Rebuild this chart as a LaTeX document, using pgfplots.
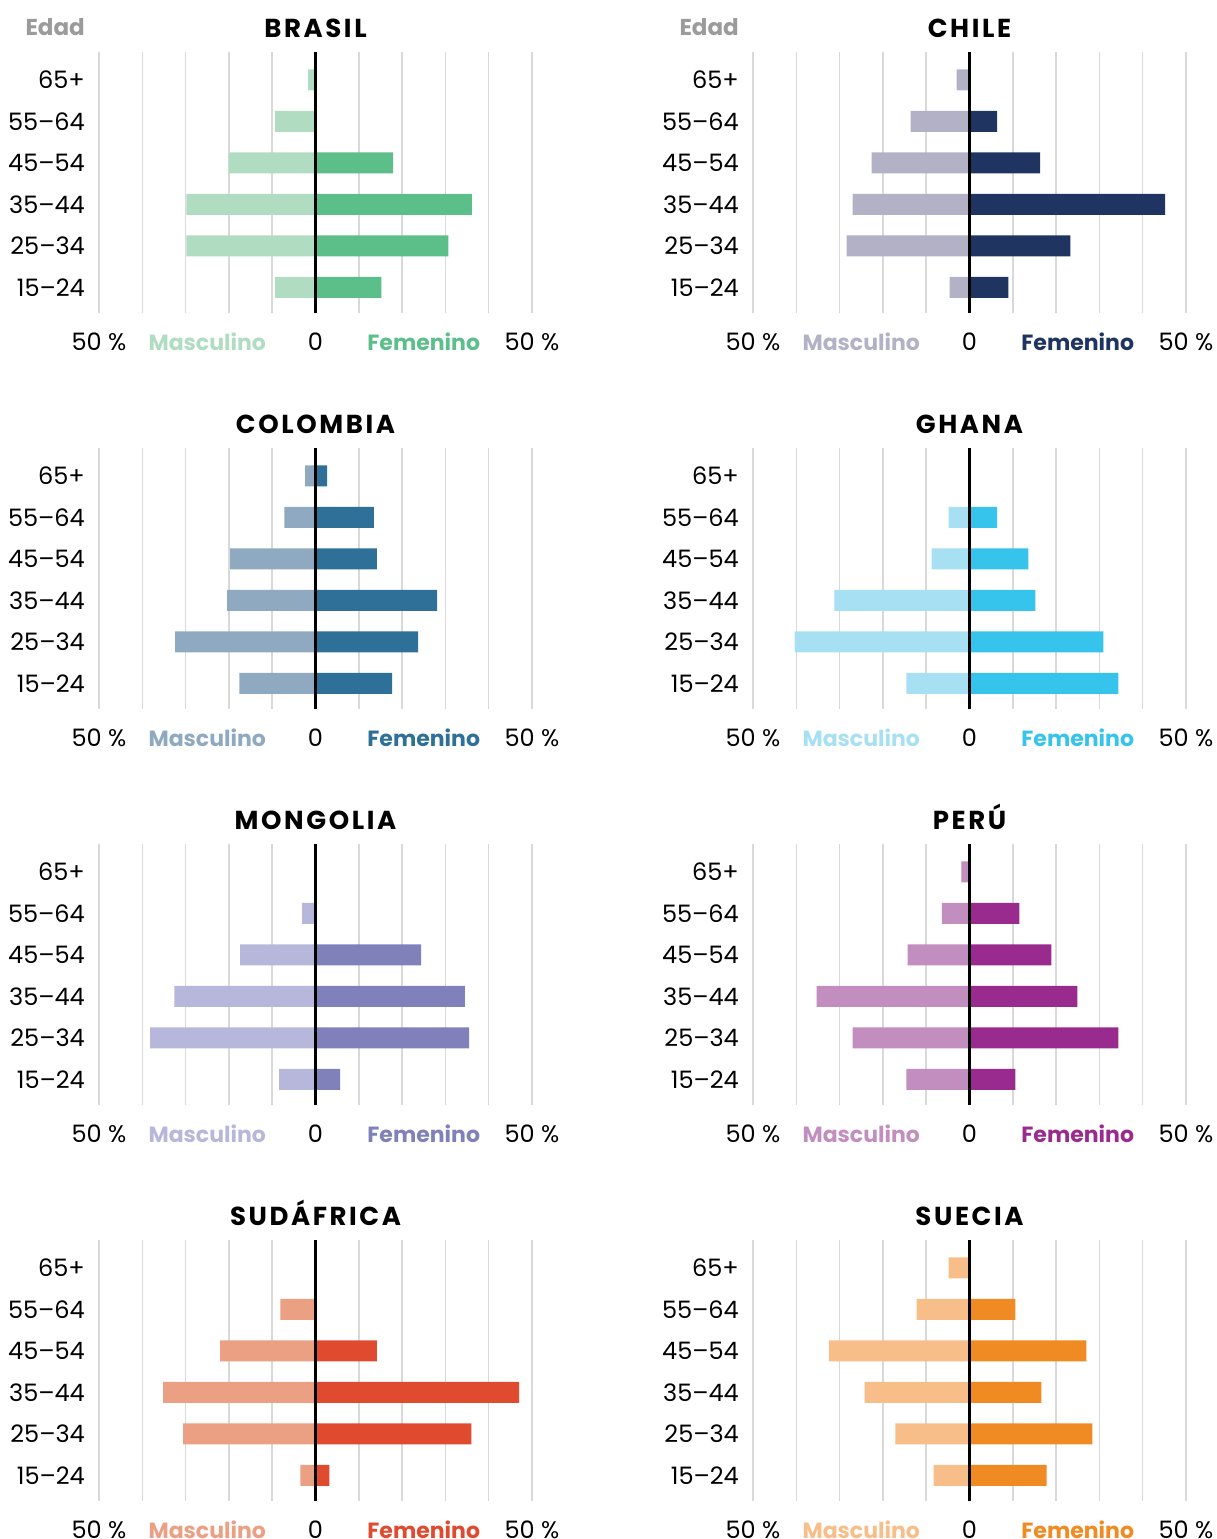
\documentclass[border=0pt]{standalone}
\usepackage{fontspec}
\setmainfont{Poppins}
\newfontfamily\titlefont{Poppins}[LetterSpace=10]
\usepackage{pgfplots}
\pgfplotsset{compat=1.18}
\definecolor{gridc}{HTML}{D9D9D9}
\definecolor{edadc}{HTML}{9B9B9B}
\definecolor{brM}{HTML}{B0DCC2}\definecolor{brF}{HTML}{5CBF8A}
\definecolor{clM}{HTML}{B3B1C6}\definecolor{clF}{HTML}{1F3461}
\definecolor{coM}{HTML}{8FA9C1}\definecolor{coF}{HTML}{2E7098}
\definecolor{ghM}{HTML}{A8E0F3}\definecolor{ghF}{HTML}{36C3EC}
\definecolor{mnM}{HTML}{B7B7DB}\definecolor{mnF}{HTML}{8081BB}
\definecolor{peM}{HTML}{C28EC0}\definecolor{peF}{HTML}{9A2B8E}
\definecolor{saM}{HTML}{EBA083}\definecolor{saF}{HTML}{E04B30}
\definecolor{suM}{HTML}{F7BE89}\definecolor{suF}{HTML}{F08A22}
\newcommand{\bigfont}{\fontsize{24}{28}\selectfont}
\newcommand{\labfont}{\fontsize{22}{26}\selectfont\bfseries}
\pgfplotsset{
  pyr/.style n args={3}{
    xbar, bar shift=0pt, bar width=21pt,
    scale only axis, width=433pt, height=261pt,
    xmin=-50, xmax=50, ymin=-0.62, ymax=5.67,
    clip=false,
    axis line style={draw=none},
    major tick length=0pt, minor tick length=0pt,
    tick style={draw=none},
    ytick={0,1,2,3,4,5},
    yticklabels={15–24,25–34,35–44,45–54,55–64,65+},
    yticklabel style={anchor=east, inner sep=0pt, xshift=-14pt, font=\bigfont},
    xtick={-50,-25,0,25,50},
    xticklabels={50 \%,{\labfont\color{#2}Masculino},0,{\labfont\color{#3}Femenino},50 \%},
    xticklabel style={anchor=base, inner sep=0pt, yshift=-37.5pt, font=\bigfont},
    minor xtick={-50,-40,...,50},
    xminorgrids=true, xmajorgrids=false, ymajorgrids=false,
    minor grid style={draw=gridc, line width=1.5pt},
    title={#1},
    title style={at={(0.5,1)}, anchor=base, inner sep=0pt, yshift=9pt, font=\titlefont\bfseries\fontsize{26}{30}\selectfont},
    after end axis/.code={\draw[black, line width=2.6pt] (axis cs:0,-0.62) -- (axis cs:0,5.67);},
  },
}
\begin{document}
\bigfont
\begin{tikzpicture}
\useasboundingbox (0pt,0pt) rectangle (1217pt,-1539pt);
% BRASIL
\begin{axis}[pyr={BRASIL}{brM}{brF}, at={(99pt,-52pt)}, anchor=north west]
\addplot[fill=brM, draw=none] coordinates {(-9.4,0) (-29.8,1) (-29.8,2) (-20.0,3) (-9.4,4) (-1.7,5)};
\addplot[fill=brF, draw=none] coordinates {(15.2,0) (30.7,1) (36.1,2) (17.9,3)};
\node[anchor=base east, inner sep=0pt, text=edadc, font=\bfseries\fontsize{23}{27}\selectfont] at (rel axis cs:0,1) [xshift=-14pt, yshift=16.5pt] {Edad};
\end{axis}
% CHILE
\begin{axis}[pyr={CHILE}{clM}{clF}, at={(753pt,-52pt)}, anchor=north west]
\addplot[fill=clM, draw=none] coordinates {(-4.6,0) (-28.4,1) (-27.0,2) (-22.6,3) (-13.6,4) (-3.0,5)};
\addplot[fill=clF, draw=none] coordinates {(9.0,0) (23.3,1) (45.2,2) (16.3,3) (6.4,4)};
\node[anchor=base east, inner sep=0pt, text=edadc, font=\bfseries\fontsize{23}{27}\selectfont] at (rel axis cs:0,1) [xshift=-14pt, yshift=16.5pt] {Edad};
\end{axis}
% COLOMBIA
\begin{axis}[pyr={COLOMBIA}{coM}{coF}, at={(99pt,-448pt)}, anchor=north west]
\addplot[fill=coM, draw=none] coordinates {(-17.6,0) (-32.4,1) (-20.4,2) (-19.7,3) (-7.2,4) (-2.4,5)};
\addplot[fill=coF, draw=none] coordinates {(17.7,0) (23.7,1) (28.1,2) (14.2,3) (13.5,4) (2.7,5)};
\end{axis}
% GHANA
\begin{axis}[pyr={GHANA}{ghM}{ghF}, at={(753pt,-448pt)}, anchor=north west]
\addplot[fill=ghM, draw=none] coordinates {(-14.6,0) (-40.4,1) (-31.2,2) (-8.75,3) (-4.8,4)};
\addplot[fill=ghF, draw=none] coordinates {(34.4,0) (30.9,1) (15.2,2) (13.6,3) (6.4,4)};
\end{axis}
% MONGOLIA
\begin{axis}[pyr={MONGOLIA}{mnM}{mnF}, at={(99pt,-844pt)}, anchor=north west]
\addplot[fill=mnM, draw=none] coordinates {(-8.4,0) (-38.2,1) (-32.6,2) (-17.4,3) (-3.1,4)};
\addplot[fill=mnF, draw=none] coordinates {(5.7,0) (35.5,1) (34.5,2) (24.4,3)};
\end{axis}
% PERU
\begin{axis}[pyr={PERÚ}{peM}{peF}, at={(753pt,-844pt)}, anchor=north west]
\addplot[fill=peM, draw=none] coordinates {(-14.6,0) (-27.0,1) (-35.3,2) (-14.3,3) (-6.4,4) (-1.9,5)};
\addplot[fill=peF, draw=none] coordinates {(10.6,0) (34.4,1) (24.9,2) (18.9,3) (11.5,4)};
\end{axis}
% SUDAFRICA
\begin{axis}[pyr={SUDÁFRICA}{saM}{saF}, at={(99pt,-1240pt)}, anchor=north west]
\addplot[fill=saM, draw=none] coordinates {(-3.5,0) (-30.6,1) (-35.2,2) (-22.0,3) (-8.1,4)};
\addplot[fill=saF, draw=none] coordinates {(3.2,0) (36.0,1) (47.0,2) (14.2,3)};
\end{axis}
% SUECIA
\begin{axis}[pyr={SUECIA}{suM}{suF}, at={(753pt,-1240pt)}, anchor=north west]
\addplot[fill=suM, draw=none] coordinates {(-8.3,0) (-17.1,1) (-24.2,2) (-32.5,3) (-12.2,4) (-4.8,5)};
\addplot[fill=suF, draw=none] coordinates {(17.8,0) (28.4,1) (16.6,2) (27.0,3) (10.6,4)};
\end{axis}
\end{tikzpicture}
\end{document}
